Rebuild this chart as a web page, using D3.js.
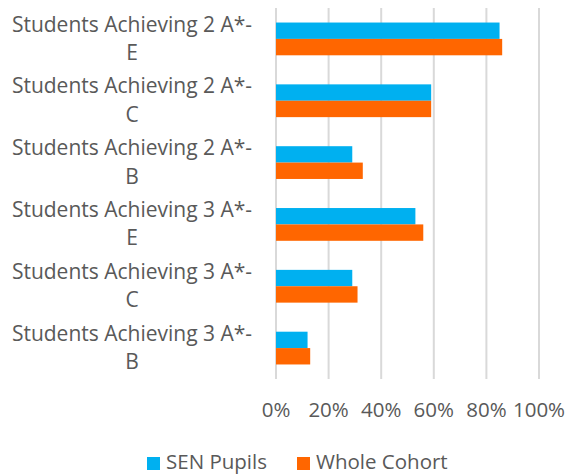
<!DOCTYPE html>
<html>
<head>
<meta charset="utf-8">
<script src="https://cdn.jsdelivr.net/npm/d3@7"></script>
<style>
  body { margin: 0; background: #fff; }
  text { font-family: "Open Sans", sans-serif; fill: #595959; }
</style>
</head>
<body>
<svg id="chart" width="566" height="475"></svg>
<script>
const categories = [
  ["Students Achieving 2 A*-", "E"],
  ["Students Achieving 2 A*-", "C"],
  ["Students Achieving 2 A*-", "B"],
  ["Students Achieving 3 A*-", "E"],
  ["Students Achieving 3 A*-", "C"],
  ["Students Achieving 3 A*-", "B"]
];
const senPupils = [0.85, 0.59, 0.29, 0.53, 0.29, 0.12];
const wholeCohort = [0.86, 0.59, 0.33, 0.56, 0.31, 0.13];
const seriesNames = ["SEN Pupils", "Whole Cohort"];
const seriesColors = ["#00B0F0", "#FF6600"];
const xTicks = [0, 0.2, 0.4, 0.6, 0.8, 1.0];

const svg = d3.select("#chart");
const keys = categories.map((c, i) => String(i));

const x = d3.scaleLinear().domain([0, 1]).range([276, 539]);
const y = d3.scaleBand().domain(keys).range([8, 379]).paddingInner(0.47).paddingOuter(0.235);
const sub = d3.scaleBand().domain([0, 1]).range([0, y.bandwidth()]);

// gridlines
svg.append("g")
  .selectAll("line")
  .data(xTicks)
  .join("line")
  .attr("x1", d => x(d)).attr("x2", d => x(d))
  .attr("y1", 8).attr("y2", 379)
  .attr("stroke", "#d9d9d9")
  .attr("stroke-width", 2);

// bars
const series = [senPupils, wholeCohort];
series.forEach((vals, s) => {
  svg.append("g")
    .selectAll("rect")
    .data(vals)
    .join("rect")
    .attr("x", x(0))
    .attr("y", (d, i) => y(keys[i]) + sub(s))
    .attr("width", d => x(d) - x(0))
    .attr("height", sub.bandwidth())
    .attr("fill", seriesColors[s]);
});

// category labels
const lab = svg.append("g")
  .selectAll("text")
  .data(categories)
  .join("text")
  .attr("text-anchor", "middle")
  .attr("font-size", 21);
lab.append("tspan")
  .attr("x", 132)
  .attr("y", (d, i) => y(keys[i]) + y.bandwidth() / 2 - 7.3)
  .text(d => d[0]);
lab.append("tspan")
  .attr("x", 132)
  .attr("y", (d, i) => y(keys[i]) + y.bandwidth() / 2 + 21)
  .text(d => d[1]);

// x tick labels
svg.append("g")
  .selectAll("text")
  .data(xTicks)
  .join("text")
  .attr("x", d => x(d))
  .attr("y", 417)
  .attr("text-anchor", "middle")
  .attr("font-size", 20.5)
  .text(d3.format(".0%"));

// legend
const leg = svg.append("g");
const legX = [147, 297];
seriesNames.forEach((name, i) => {
  leg.append("rect")
    .attr("x", legX[i]).attr("y", 457)
    .attr("width", 13).attr("height", 13)
    .attr("fill", seriesColors[i]);
  leg.append("text")
    .attr("x", legX[i] + 19).attr("y", 469)
    .attr("font-size", 20.5)
    .text(name);
});
</script>
</body>
</html>
